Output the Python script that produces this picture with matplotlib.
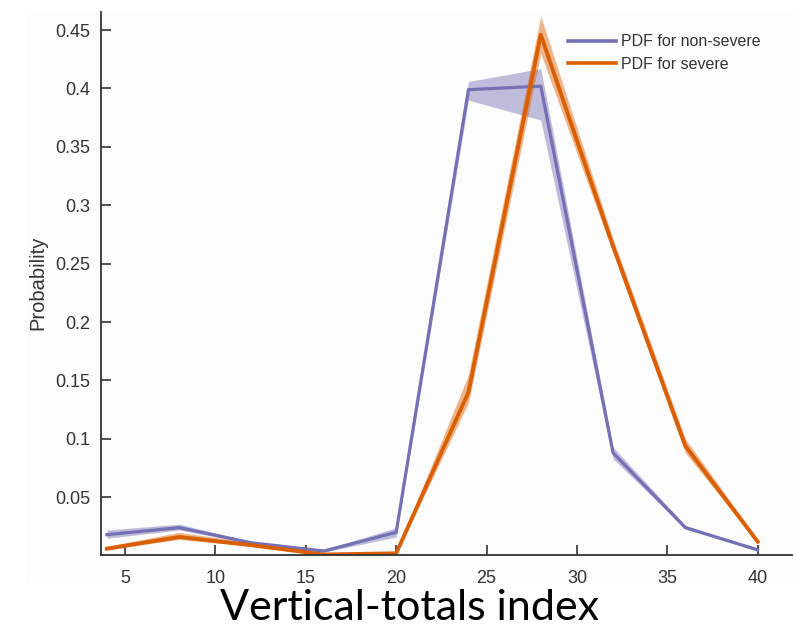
import matplotlib.pyplot as plt
from matplotlib.patches import Rectangle

vt_index = [4, 8, 12, 16, 20, 24, 28, 32, 36, 40]

# non-severe cases
pdf_nonsevere = [0.018, 0.024, 0.011, 0.004, 0.020, 0.399, 0.402, 0.088, 0.024, 0.005]
low_nonsevere = [0.015, 0.022, 0.010, 0.003, 0.016, 0.390, 0.373, 0.083, 0.023, 0.004]
high_nonsevere = [0.022, 0.027, 0.012, 0.005, 0.024, 0.406, 0.417, 0.093, 0.026, 0.006]

# severe cases
pdf_severe = [0.006, 0.016, 0.009, 0.001, 0.002, 0.140, 0.446, 0.265, 0.094, 0.012]
low_severe = [0.005, 0.014, 0.008, 0.000, 0.001, 0.131, 0.430, 0.259, 0.088, 0.011]
high_severe = [0.008, 0.020, 0.011, 0.002, 0.003, 0.155, 0.462, 0.271, 0.100, 0.014]

yticks = [0.05, 0.1, 0.15, 0.2, 0.25, 0.3, 0.35, 0.4, 0.45]
ytick_labels = ['0.05', '0.1', '0.15', '0.2', '0.25', '0.3', '0.35', '0.4', '0.45']
xticks = [5, 10, 15, 20, 25, 30, 35, 40]

purple = '#7570b3'
orange = '#d95f02'
grey = '#333333'

plt.rcParams['font.family'] = ['Liberation Sans', 'DejaVu Sans']

fig = plt.figure(figsize=(7.94, 6.27), dpi=100, facecolor='white')
# light panel behind the axes and tick labels
fig.patches.append(Rectangle((25 / 794, 44 / 627), 1 - 25 / 794, 573 / 627,
                             transform=fig.transFigure, facecolor='#fcfcfc',
                             edgecolor='none', zorder=-10))

ax = fig.add_axes([0.1272, 0.1156, 0.8703, 0.8653])
ax.set_facecolor('#fcfcfc')

ax.fill_between(vt_index, low_nonsevere, high_nonsevere, color=purple, alpha=0.45, lw=0)
ax.fill_between(vt_index, low_severe, high_severe, color=orange, alpha=0.45, lw=0)
ax.plot(vt_index, pdf_nonsevere, color=purple, lw=2.3, label='PDF for non-severe')
ax.plot(vt_index, pdf_severe, color=orange, lw=2.8, label='PDF for severe')

ax.set_xlim(3.67, 41.9)
ax.set_ylim(0.001, 0.4655)
ax.set_xticks(xticks)
ax.set_yticks(yticks)
ax.set_yticklabels(ytick_labels)
ax.tick_params(direction='in', length=7, width=1.2, color=grey, labelcolor=grey,
               labelsize=13)
ax.tick_params(axis='x', pad=11)
ax.tick_params(axis='y', pad=8)

for s in ['top', 'right']:
    ax.spines[s].set_visible(False)
for s in ['left', 'bottom']:
    ax.spines[s].set_color(grey)
    ax.spines[s].set_linewidth(1.3)

ax.set_ylabel('Probability', fontsize=14.5, color=grey, labelpad=5)

leg = ax.legend(loc='upper right', bbox_to_anchor=(0.975, 0.985), frameon=False,
                fontsize=11.5, handlelength=3.0, handletextpad=0.3,
                labelspacing=0.45, labelcolor=grey)
for line in leg.get_lines():
    line.set_linewidth(2.6)

fig.text(0.516, 7 / 627, 'Vertical-totals index', fontsize=31, family='Lato',
         ha='center', va='baseline', color='black')

plt.savefig('out.png', dpi=100, facecolor='white')
